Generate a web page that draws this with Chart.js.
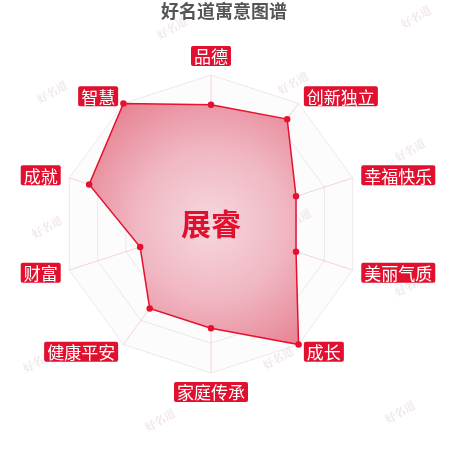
<!DOCTYPE html>
<html lang="zh">
<head>
    <meta charset="UTF-8">
    <title>好名道寓意图谱</title>
    <script src="https://cdn.jsdelivr.net/npm/chart.js"></script>
    <style>
        body { margin: 0; background: #fff; }
        canvas { display: block; }
    </style>
</head>
<body>
    <canvas id="radarChart" width="450" height="450"></canvas>

    <script>
        // Chart data
        const chartTitle = '好名道寓意图谱';
        const centerName = '展睿';
        const labels = ['品德', '创新独立', '幸福快乐', '美丽气质', '成长', '家庭传承', '健康平安', '财富', '成就', '智慧'];
        const scores = [80, 87, 60, 60, 100, 70, 70, 50, 86, 100];
        const scaleMax = 100;

        const RED = '#e0102e';
        const CJK = '"Noto Sans CJK SC", "Noto Sans", sans-serif';

        // faint "好名道" watermarks behind the chart
        const watermarks = [
            [172, 28], [416, 17], [52, 92], [293, 83], [410, 150], [170, 155],
            [47, 227], [296, 220], [410, 285], [172, 290], [38, 361], [278, 358],
            [160, 420], [400, 412]
        ];
        const watermarkPlugin = {
            id: 'watermark',
            beforeDraw(chart) {
                const ctx = chart.ctx;
                ctx.save();
                ctx.fillStyle = 'rgba(225, 200, 204, 0.45)';
                ctx.font = 'bold 11px "Noto Serif CJK SC", "Noto Sans CJK SC", serif';
                ctx.textAlign = 'center';
                ctx.textBaseline = 'middle';
                watermarks.forEach(([x, y]) => {
                    ctx.save();
                    ctx.translate(x, y);
                    ctx.rotate(-Math.PI / 6);
                    ctx.fillText('好名道', 0, 0);
                    ctx.restore();
                });
                ctx.restore();
            }
        };

        // title, name in the middle and the boxed axis labels
        const decorPlugin = {
            id: 'decor',
            afterDraw(chart) {
                const ctx = chart.ctx;
                const scale = chart.scales.r;
                ctx.save();

                ctx.fillStyle = '#555';
                ctx.font = 'bold 18px ' + CJK;
                ctx.textAlign = 'center';
                ctx.textBaseline = 'middle';
                ctx.fillText(chartTitle, 224, 11);

                ctx.fillStyle = RED;
                ctx.font = 'bold 30px ' + CJK;
                ctx.fillText(centerName, scale.xCenter, scale.yCenter);

                ctx.font = '17px ' + CJK;
                labels.forEach((txt, i) => {
                    const p = scale.getPointPosition(i, scale.drawingArea + 9);
                    const w = ctx.measureText(txt).width + 6;
                    const h = 20;
                    const dx = p.x - scale.xCenter;
                    let bx, by;
                    if (Math.abs(dx) < 2) {
                        bx = p.x - w / 2;
                        by = p.y < scale.yCenter ? p.y - h : p.y;
                    } else {
                        bx = dx > 0 ? p.x : p.x - w;
                        by = p.y - h / 2;
                    }
                    ctx.fillStyle = RED;
                    ctx.beginPath();
                    ctx.roundRect(bx, by, w, h, 2);
                    ctx.fill();
                    ctx.fillStyle = '#fff';
                    ctx.textAlign = 'center';
                    ctx.fillText(txt, bx + w / 2, by + h / 2 + 1);
                });
                ctx.restore();
            }
        };

        function areaGradient(context) {
            const chart = context.chart;
            const scale = chart.scales.r;
            if (!scale || !scale.drawingArea) return 'rgba(235,140,155,0.8)';
            const g = chart.ctx.createRadialGradient(scale.xCenter, scale.yCenter, 0,
                scale.xCenter, scale.yCenter, scale.drawingArea);
            g.addColorStop(0, 'rgba(246, 214, 221, 0.95)');
            g.addColorStop(0.5, 'rgba(240, 180, 192, 0.95)');
            g.addColorStop(1, 'rgba(230, 124, 141, 0.95)');
            return g;
        }

        const ctx = document.getElementById('radarChart').getContext('2d');
        const radarChart = new Chart(ctx, {
            type: 'radar',
            data: {
                labels: labels,
                datasets: [{
                    data: scores,
                    backgroundColor: areaGradient,
                    borderColor: '#e6112f',
                    borderWidth: 1.5,
                    pointBackgroundColor: '#e6112f',
                    pointBorderColor: '#e6112f',
                    pointRadius: 2.5,
                    fill: true
                }]
            },
            options: {
                responsive: false,
                animation: false,
                layout: { padding: { left: 62, right: 89, top: 75, bottom: 76 } },
                scales: {
                    r: {
                        min: 0,
                        max: scaleMax,
                        backgroundColor: 'rgba(240, 228, 231, 0.12)',
                        ticks: { display: false, stepSize: 20 },
                        pointLabels: { display: false },
                        grid: { color: 'rgba(220, 205, 210, 0.45)', borderDash: [1, 2] },
                        angleLines: { color: 'rgba(238, 160, 175, 0.45)' }
                    }
                },
                plugins: {
                    legend: { display: false },
                    tooltip: { enabled: false }
                }
            },
            plugins: [watermarkPlugin, decorPlugin]
        });
    </script>
</body>
</html>
